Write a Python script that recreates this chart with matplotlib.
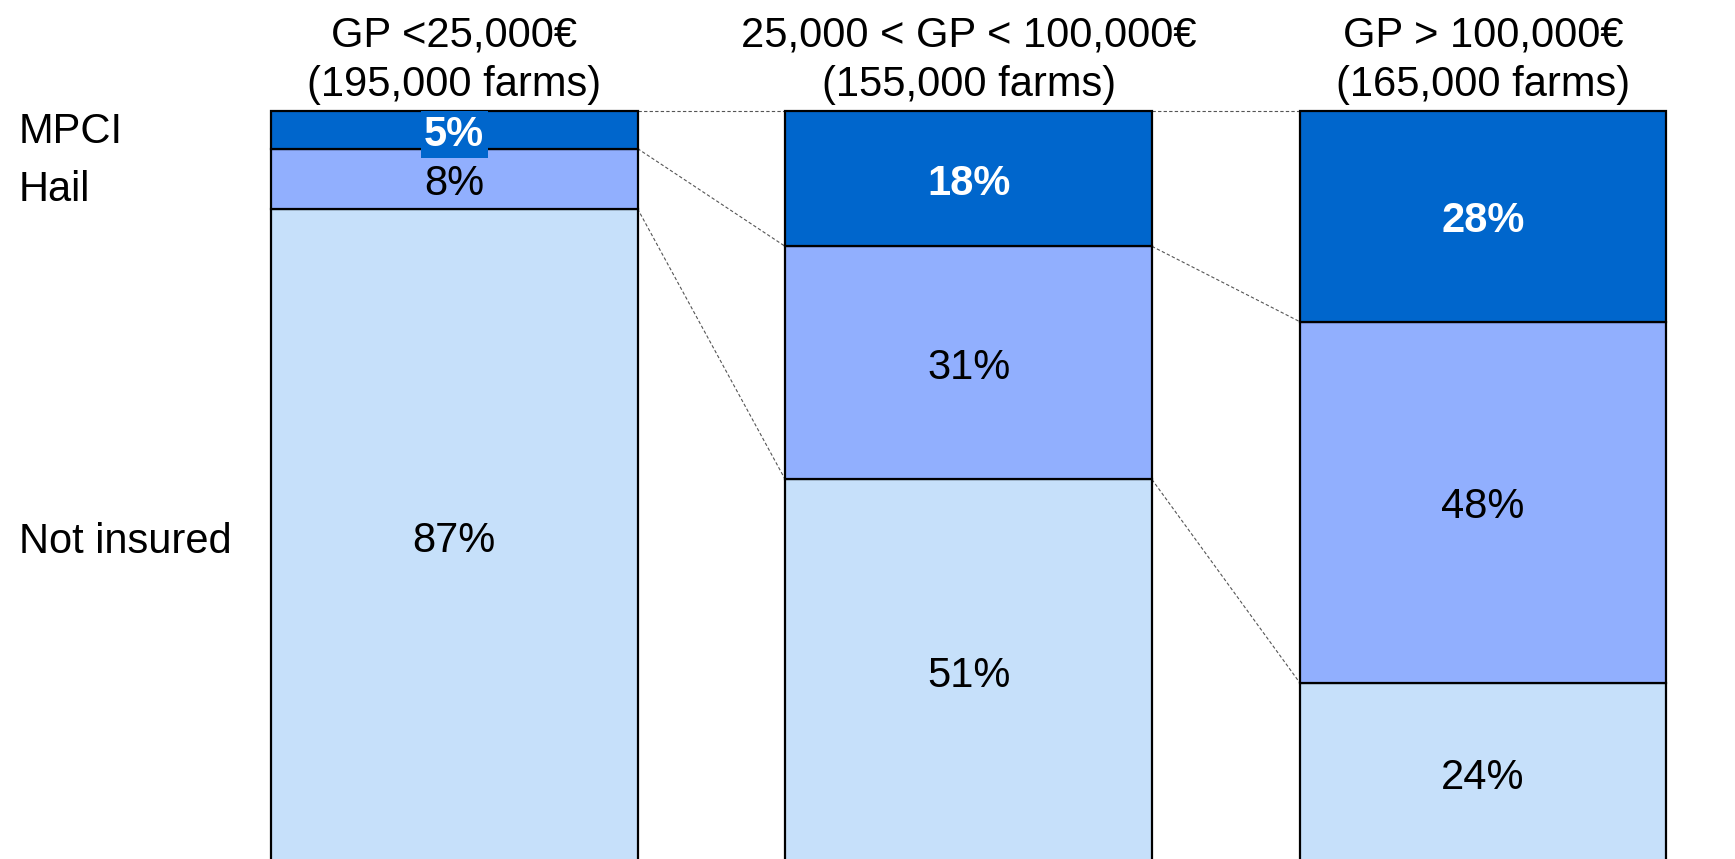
import matplotlib.pyplot as plt
from matplotlib.transforms import blended_transform_factory

plt.rcParams['font.family'] = ['Liberation Sans', 'DejaVu Sans']

# data
groups = ['GP <25,000€\n(195,000 farms)',
          '25,000 < GP < 100,000€\n(155,000 farms)',
          'GP > 100,000€\n(165,000 farms)']
not_insured = [87, 51, 24]
hail = [8, 31, 48]
mpci = [5, 18, 28]
layer_names = ['Not insured', 'Hail', 'MPCI']
layer_colors = ['#c6e0fa', '#91affe', '#0066cc']

fig = plt.figure(figsize=(17.35, 8.59), dpi=100)
ax = fig.add_axes([0, 0, 1, 1])
ax.set_xlim(-0.883, 2.49)
ax.set_ylim(0.53, 114.76)
ax.axis('off')

x = range(len(groups))
width = 0.713
layers = [not_insured, hail, mpci]

bottoms = [0, 0, 0]
for vals, col in zip(layers, layer_colors):
    ax.bar(x, vals, width, bottom=bottoms, color=col, edgecolor='black', linewidth=1.6, zorder=2)
    bottoms = [b + v for b, v in zip(bottoms, vals)]

# segment labels (nudged a bit down to match the original text placement)
nudge = -0.65
for i in x:
    b = 0
    for k, vals in enumerate(layers):
        v = vals[i]
        cy = b + v / 2 + nudge
        if k == 2:
            ax.text(i, cy, f'{v}%', ha='center', va='center', fontsize=30, color='white',
                    fontweight='bold', zorder=4,
                    bbox=dict(facecolor='#0066cc', edgecolor='none', pad=2.5) if v < 10 else None)
        else:
            ax.text(i, cy, f'{v}%', ha='center', va='center', fontsize=30, color='black', zorder=4)
        b += v

# connector lines between bars
for i in range(len(groups) - 1):
    b1 = 0
    b2 = 0
    for k, vals in enumerate(layers):
        b1 += vals[i]
        b2 += vals[i + 1]
        ax.plot([i + width / 2, i + 1 - width / 2], [b1, b2], color='#555555',
                linewidth=0.8, dashes=(3, 2), zorder=1)

# group titles
for i, g in enumerate(groups):
    ax.text(i, 106.8, g, ha='center', va='center', fontsize=30, linespacing=1.3)

# layer names on the left
trans = blended_transform_factory(fig.transFigure, ax.transData)
name_nudge = [-0.8, -1.5, -0.3]
b = 0
for name, vals, dn in zip(layer_names, layers, name_nudge):
    ax.text(0.011, b + vals[0] / 2 + dn, name, ha='left', va='center', fontsize=30, transform=trans)
    b += vals[0]

fig.savefig('out.png', dpi=100)
